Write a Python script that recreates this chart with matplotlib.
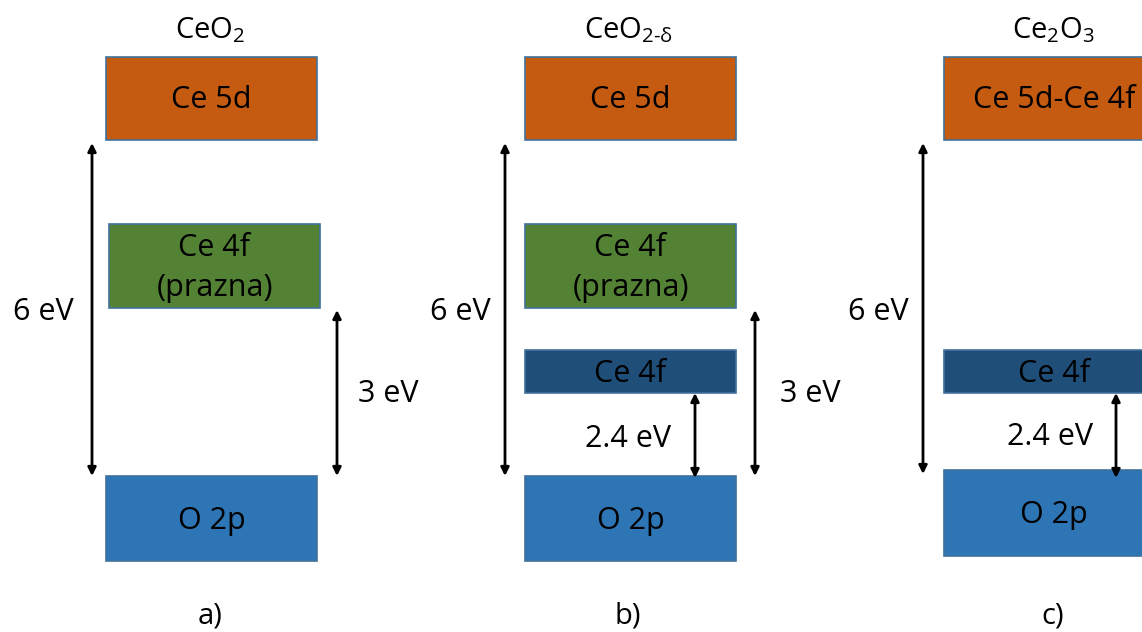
import matplotlib
matplotlib.use("Agg")
import matplotlib.pyplot as plt
from matplotlib.patches import Rectangle

plt.rcParams['font.family'] = ['Open Sans', 'DejaVu Sans']
plt.rcParams['mathtext.fontset'] = 'custom'
plt.rcParams['mathtext.rm'] = 'Open Sans'
plt.rcParams['mathtext.it'] = 'Open Sans'

# ---- data (diagram coordinates in pixel units of the canvas) ----
panel_titles = [r'$\mathregular{CeO_2}$', r'$\mathregular{CeO_{2\text{-}\delta}}$', r'$\mathregular{Ce_2O_3}$']
panel_letters = ['a)', 'b)', 'c)']
panel_centers = [210, 628, 1053]

box_labels = ['Ce 5d', 'Ce 4f\n(prazna)', 'O 2p',
              'Ce 5d', 'Ce 4f\n(prazna)', 'Ce 4f', 'O 2p',
              'Ce 5d-Ce 4f', 'Ce 4f', 'O 2p']
box_left = [106, 109, 106, 525, 525, 525, 525, 944, 944, 944]
box_right = [317, 320, 317, 736, 736, 736, 736, 1164, 1164, 1164]
box_top = [57, 224, 476, 57, 224, 350, 476, 57, 350, 470]
box_bottom = [140, 308, 561, 140, 308, 393, 561, 140, 393, 556]
box_colors = ['#C55A11', '#548235', '#2E75B6',
              '#C55A11', '#548235', '#1F4E79', '#2E75B6',
              '#C55A11', '#1F4E79', '#2E75B6']

arrow_labels = ['6 eV', '3 eV', '6 eV', '3 eV', '2.4 eV', '6 eV', '2.4 eV']
arrow_x = [92, 337, 505, 755, 695, 923, 1116]
arrow_y0 = [143, 310, 143, 310, 393, 143, 393]
arrow_y1 = [476, 476, 476, 476, 478, 474, 478]
label_x = [43, 388, 460, 810, 628, 878, 1050]
label_y = [312, 394, 312, 394, 439, 312, 437]

fig = plt.figure(figsize=(11.42, 6.32), dpi=100)
ax = fig.add_axes([0, 0, 1, 1])
ax.set_xlim(0, 1142)
ax.set_ylim(632, 0)
ax.axis('off')

fs = 22
for lab, l, r, t, b, c in zip(box_labels, box_left, box_right, box_top, box_bottom, box_colors):
    ax.add_patch(Rectangle((l, t), r - l, b - t, facecolor=c, edgecolor='#41719C', lw=1.2, zorder=2))
    ax.text((l + r) / 2, (t + b) / 2 + 2, lab,
            ha='center', va='center', fontsize=fs, color='black', zorder=3, linespacing=1.45)

for x, y0, y1 in zip(arrow_x, arrow_y0, arrow_y1):
    ax.annotate('', xy=(x, y0), xytext=(x, y1),
                arrowprops=dict(arrowstyle='<|-|>', color='black', lw=2.0,
                                mutation_scale=12, shrinkA=0, shrinkB=0), zorder=4)

for lab, x, y in zip(arrow_labels, label_x, label_y):
    ax.text(x, y, lab, ha='center', va='center', fontsize=fs, color='black')

for t, cx in zip(panel_titles, panel_centers):
    ax.text(cx, 30, t, ha='center', va='center', fontsize=21, color='black')

for t, cx in zip(panel_letters, panel_centers):
    ax.text(cx, 616, t, ha='center', va='center', fontsize=21, color='black')

fig.savefig('out.png', dpi=100)
